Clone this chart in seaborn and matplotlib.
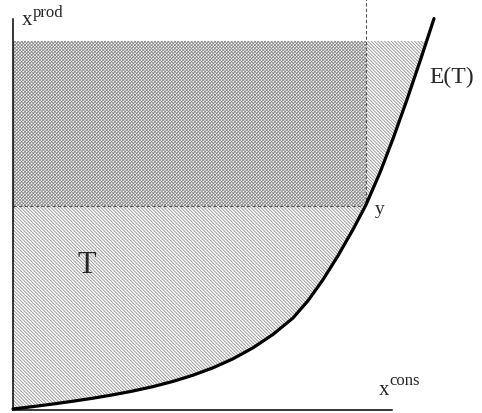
import numpy as np
import pandas as pd
import matplotlib
matplotlib.use("Agg")
import matplotlib.pyplot as plt
import seaborn as sns

# Frontier E(T): consumption vs production
cons = [0, 20, 40, 60, 80, 100, 120, 140, 160, 180, 200, 220, 240, 260, 280,
        295, 310, 325, 340, 353, 367, 380, 394, 408, 421]
prod = [1, 3.4, 6.0, 8.8, 11.8, 15.2, 19.0, 23.4, 28.6, 34.8, 42.2, 51.2, 62.2, 75.6, 92,
        109.3, 130.3, 154.3, 180.5, 205.2, 237.4, 271.2, 310.4, 351.7, 391.4]

point_y = (353, 204)      # the point y on the frontier
top_level = 369           # upper bound of shaded regions
xaxis_end = 379
yaxis_end = 391

sns.set_style("white")
plt.rcParams['font.family'] = ['Liberation Serif', 'DejaVu Serif']
plt.rcParams['hatch.linewidth'] = 0.6

fig = plt.figure(figsize=(4.82, 4.14), dpi=100)
ax = fig.add_axes([0, 0, 1, 1])
ax.set_xlim(-13, 469)
ax.set_ylim(-3, 411)

# Region T: between y-axis and frontier
cx = np.array(cons, float)
cy = np.array(prod, float)
xtop = np.interp(top_level, cy, cx)
mask = cy < top_level
poly_x = np.concatenate([[0], cx[mask], [xtop, 0]])
poly_y = np.concatenate([[cy[0]], cy[mask], [top_level, top_level]])
ax.fill(poly_x, poly_y, facecolor='white', edgecolor='#8c8c8c',
        hatch='\\' * 10, linewidth=0, zorder=1)

# Upper-contour rectangle (dominating y)
ax.fill([0, point_y[0], point_y[0], 0], [point_y[1], point_y[1], top_level, top_level],
        facecolor='none', edgecolor='#7a7a7a', hatch='/' * 10, linewidth=0, zorder=2)

# Dashed guide lines
ax.plot([0, point_y[0]], [point_y[1], point_y[1]], ls=(0, (3, 2)), color='#555555', lw=0.8, zorder=3)
ax.plot([point_y[0], point_y[0]], [point_y[1], 420], ls=(0, (3, 2)), color='#555555', lw=0.8, zorder=3)

# Frontier curve
df = pd.DataFrame({'cons': cons, 'prod': prod})
sns.lineplot(data=df, x='cons', y='prod', sort=False, estimator=None,
             color='black', lw=2.3, ax=ax, zorder=4)

# Axes lines
for s in ['top', 'right']:
    ax.spines[s].set_visible(False)
ax.spines['left'].set_position(('data', 0))
ax.spines['bottom'].set_position(('data', 0))
ax.spines['left'].set_bounds(0, yaxis_end)
ax.spines['bottom'].set_bounds(0, xaxis_end)
for s in ['left', 'bottom']:
    ax.spines[s].set_color('black')
    ax.spines[s].set_linewidth(1.1)
    ax.spines[s].set_zorder(5)
ax.set_xticks([])
ax.set_yticks([])
ax.set_xlabel('')
ax.set_ylabel('')

# Labels
ax.text(9, 386, 'x', fontsize=15, ha='left', va='baseline')
ax.text(20, 394, 'prod', fontsize=12, ha='left', va='baseline')
ax.text(366, 16, 'x', fontsize=15, ha='left', va='baseline')
ax.text(376, 26, 'cons', fontsize=12, ha='left', va='baseline')
ax.text(64, 138, 'T', fontsize=22, ha='left', va='baseline')
ax.text(416, 328, 'E(T)', fontsize=17, ha='left', va='baseline')
ax.text(362, 197, 'y', fontsize=14, ha='left', va='baseline')

fig.savefig('out.png', dpi=100)
